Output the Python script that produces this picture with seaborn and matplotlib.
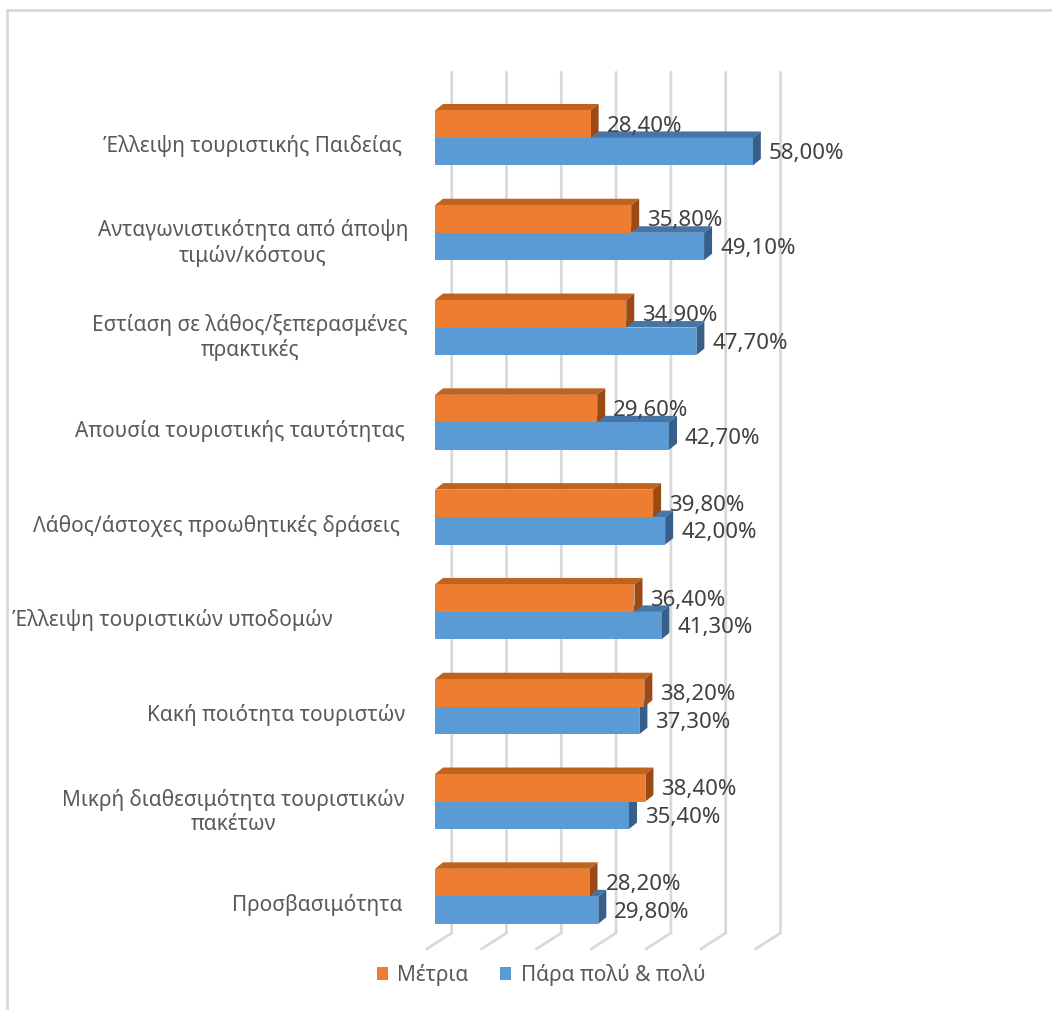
import numpy as np
import pandas as pd
import matplotlib
matplotlib.use("Agg")
import matplotlib.pyplot as plt
import matplotlib.transforms as mtransforms
from matplotlib.patches import Polygon, Patch
from matplotlib.lines import Line2D
import seaborn as sns

# ---- data -------------------------------------------------------------
categories = [
    "Έλλειψη τουριστικής Παιδείας",
    "Ανταγωνιστικότητα από άποψη\nτιμών/κόστους",
    "Εστίαση σε λάθος/ξεπερασμένες\nπρακτικές",
    "Απουσία τουριστικής ταυτότητας",
    "Λάθος/άστοχες προωθητικές δράσεις",
    "Έλλειψη τουριστικών υποδομών",
    "Κακή ποιότητα τουριστών",
    "Μικρή διαθεσιμότητα τουριστικών\nπακέτων",
    "Προσβασιμότητα",
]
series_names = ["Μέτρια", "Πάρα πολύ & πολύ"]
metria = [28.4, 35.8, 34.9, 29.6, 39.8, 36.4, 38.2, 38.4, 28.2]
para_poly = [58.0, 49.1, 47.7, 42.7, 42.0, 41.3, 37.3, 35.4, 29.8]
grid_values = [0, 10, 20, 30, 40, 50, 60]

# ---- styling ----------------------------------------------------------
ORANGE = "#ED7D31"
ORANGE_TOP = "#C0631F"
ORANGE_SIDE = "#9C4A15"
BLUE = "#5B9BD5"
BLUE_TOP = "#4676A6"
BLUE_SIDE = "#365F8A"
GRID = "#D9D9D9"
LABEL_COL = "#595959"
VALUE_COL = "#404040"
FONT = ["Noto Sans", "DejaVu Sans"]
FS_LABEL = 15
FS_VALUE = 16
FS_LEGEND = 15

# horizontal nudge (pixels) of individual category labels
label_shift = [-6, 0, 0, -3, -8, -75, -3, -3, -6]

sns.set_theme(style="white")
plt.rcParams["font.family"] = FONT

W, H, DPI = 1052, 1010, 100
fig = plt.figure(figsize=(W / DPI, H / DPI), dpi=DPI)

# axes placed in pixel terms (bar front plane)
x0_px, px_per_pct, xmax = 435.0, 5.48, 65.0
y_top_px, y_bot_px = 90.55, 943.7
ax = fig.add_axes([x0_px / W, (H - y_bot_px) / H,
                   xmax * px_per_pct / W, (y_bot_px - y_top_px) / H])

df = pd.DataFrame({
    "category": categories * 2,
    "value": metria + para_poly,
    "series": [series_names[0]] * len(categories) + [series_names[1]] * len(categories),
})

sns.barplot(data=df, x="value", y="category", hue="series",
            palette=[ORANGE, BLUE], orient="y", width=0.58, saturation=1,
            linewidth=0, legend=False, ax=ax)

ax.set_xlim(0, xmax)
ax.set_ylim(len(categories) - 0.5, -0.5)
for s in ax.spines.values():
    s.set_visible(False)
ax.set_xticks([])
ax.set_xlabel("")
ax.set_ylabel("")

to_disp = ax.transData.transform
to_data = ax.transData.inverted().transform


def shifted(x, y, dx, dy):
    """Data point moved by (dx, dy) display pixels, returned in data coords."""
    px, py = to_disp((x, y))
    return tuple(to_data((px + dx, py + dy)))


# ---- back wall grid lines with floor slant -----------------------------
BACK = (16.7, 10.7)     # bar plane -> back wall
FRONT = (-8.3, -5.3)    # bar plane -> front floor edge
y_floor = len(categories) - 0.5
y_wall_top = -0.58
for g in grid_values:
    p_top = shifted(g, y_wall_top, *BACK)
    p_bot = shifted(g, y_floor, *BACK)
    p_front = shifted(g, y_floor, *FRONT)
    ax.add_line(Line2D([p_top[0], p_bot[0], p_front[0]],
                       [p_top[1], p_bot[1], p_front[1]],
                       color=GRID, lw=2, zorder=0.5, clip_on=False,
                       solid_joinstyle="miter"))

# ---- 3D faces on every bar ----------------------------------------------
DEPTH = (8.0, 6.5)
n = len(categories)
for i, p in enumerate(ax.patches):
    is_orange = i < n
    z = 4 if is_orange else 3
    top_c, side_c = (ORANGE_TOP, ORANGE_SIDE) if is_orange else (BLUE_TOP, BLUE_SIDE)
    p.set_zorder(z + 0.2)
    xa = p.get_x()
    xb = xa + p.get_width()
    yt = p.get_y()
    yb = yt + p.get_height()
    top = [(xa, yt), (xb, yt), shifted(xb, yt, *DEPTH), shifted(xa, yt, *DEPTH)]
    side = [(xb, yt), (xb, yb), shifted(xb, yb, *DEPTH), shifted(xb, yt, *DEPTH)]
    ax.add_patch(Polygon(top, closed=True, facecolor=top_c, edgecolor="none",
                         zorder=z, clip_on=False))
    ax.add_patch(Polygon(side, closed=True, facecolor=side_c, edgecolor="none",
                         zorder=z + 0.1, clip_on=False))
    # value label right of the bar's side face
    val = p.get_width()
    lx, ly = shifted(xb, (yt + yb) / 2, 16, -2)
    ax.text(lx, ly, f"{val:.2f}".replace(".", ",") + "%", ha="left", va="center",
            fontsize=FS_VALUE, color=VALUE_COL, zorder=6, clip_on=False)

# ---- category labels ------------------------------------------------------
ax.set_yticks(range(n))
ax.set_yticklabels(categories)
ax.tick_params(axis="y", length=0, pad=27 * 72 / DPI)
for lab, sh in zip(ax.get_yticklabels(), label_shift):
    lab.set_fontsize(FS_LABEL)
    lab.set_color(LABEL_COL)
    lab.set_multialignment("center")
    lab.set_transform(lab.get_transform() +
                      mtransforms.Affine2D().translate(sh, -6))

# ---- legend ---------------------------------------------------------------
handles = [Patch(facecolor=ORANGE, edgecolor="none"),
           Patch(facecolor=BLUE, edgecolor="none")]
leg = fig.legend(handles, series_names, loc="center",
                 bbox_to_anchor=(541 / W, 1 - 975 / H), ncol=2, frameon=False,
                 fontsize=FS_LEGEND, handlelength=0.55, handleheight=0.55,
                 handletextpad=0.45, columnspacing=1.5)
for t in leg.get_texts():
    t.set_color(LABEL_COL)

# ---- chart frame (top and left edges) ---------------------------------------
fig.add_artist(Line2D([6.5 / W, 1.0], [1 - 9.5 / H, 1 - 9.5 / H],
                      transform=fig.transFigure, color=GRID, lw=2))
fig.add_artist(Line2D([6.5 / W, 6.5 / W], [0.0, 1 - 9.5 / H],
                      transform=fig.transFigure, color=GRID, lw=2))

fig.savefig("out.png", dpi=DPI, facecolor="white")
